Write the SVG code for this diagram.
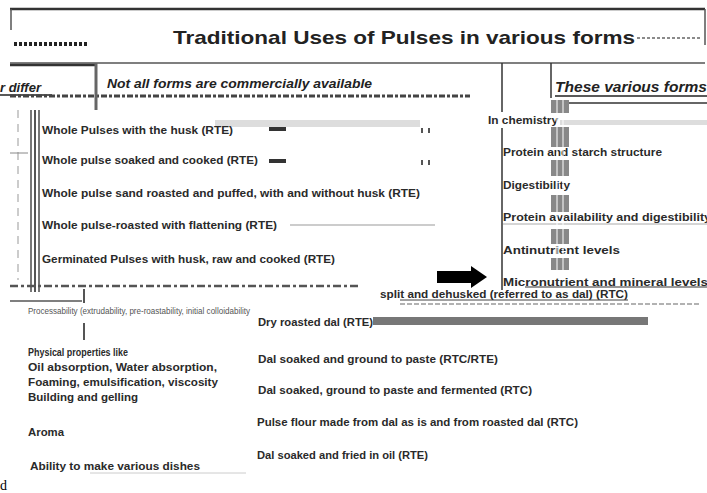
<svg xmlns="http://www.w3.org/2000/svg" width="707" height="493" viewBox="0 0 707 493">
<style>
.t{font-family:"Liberation Sans",Arial,sans-serif;font-size:11px;font-weight:bold;fill:#2a2a2a}
.g{font-family:"Liberation Sans",Arial,sans-serif;font-size:9px;fill:#555}
.hd{font-family:"Liberation Sans",Arial,sans-serif;font-weight:bold;font-style:italic;fill:#222}
.ln{stroke:#555;stroke-width:1.5;fill:none}
.dk{stroke:#333;stroke-width:2.5;fill:none}
.bar{fill:#888}
.stripe{stroke:#fff;stroke-width:1}
</style>
<rect width="707" height="493" fill="#fff"/>

<g id="frame">
  <line x1="10" y1="9" x2="705" y2="9" class="dk"/>
  <line x1="11" y1="9" x2="11" y2="30" class="ln"/>
  <line x1="705" y1="9" x2="705" y2="45" class="ln"/>
  <line x1="14" y1="44" x2="88" y2="44" stroke="#222" stroke-width="4" stroke-dasharray="3 2"/>
  <line x1="637" y1="38" x2="700" y2="38" stroke="#666" stroke-width="1.5" stroke-dasharray="3 2"/>
  <line x1="10" y1="63" x2="705" y2="63" class="ln"/>
  <line x1="10" y1="65" x2="96" y2="65" class="dk"/>
</g>

<g id="title">
  <text x="173" y="44" font-family="Liberation Sans, Arial, sans-serif" font-size="19" font-weight="bold" fill="#222" textLength="462" lengthAdjust="spacingAndGlyphs">Traditional Uses of Pulses in various forms</text>
</g>

<g id="header-row">
  <text x="0" y="92" class="hd" font-size="13">r differ</text>
  <line x1="0" y1="95" x2="52" y2="95" stroke="#222" stroke-width="1.5"/>
  <text x="107" y="88" class="hd" font-size="12" fill="#333" textLength="265" lengthAdjust="spacingAndGlyphs">Not all forms are commercially available</text>
  <line x1="10" y1="96" x2="470" y2="96" stroke="#444" stroke-width="3" stroke-dasharray="6 2 3 2"/>
  <text x="555" y="92" class="hd" font-size="15" textLength="152" lengthAdjust="spacingAndGlyphs">These various forms</text>
  <line x1="555" y1="96" x2="707" y2="96" stroke="#222" stroke-width="1.5"/>
  <line x1="560" y1="103" x2="707" y2="103" stroke="#333" stroke-width="1.5"/>
</g>

<g id="whole-pulse-forms">
  <rect x="215" y="120" width="205" height="7" fill="#ddd"/>
  <line x1="31" y1="110" x2="31" y2="292" stroke="#777" stroke-width="2"/>
  <line x1="35" y1="110" x2="35" y2="292" stroke="#555" stroke-width="2"/>
  <line x1="39" y1="110" x2="39" y2="292" stroke="#777" stroke-width="2"/>
  <line x1="18" y1="110" x2="18" y2="280" stroke="#ccc" stroke-width="2" stroke-dasharray="8 6"/>
  <line x1="10" y1="153" x2="28" y2="153" stroke="#888" stroke-width="1"/>
  <text x="42" y="134" class="t" textLength="191" lengthAdjust="spacingAndGlyphs">Whole Pulses with the husk (RTE)</text>
  <text x="42" y="164" class="t" textLength="216" lengthAdjust="spacingAndGlyphs">Whole pulse soaked and cooked (RTE)</text>
  <text x="42" y="197" class="t" textLength="378" lengthAdjust="spacingAndGlyphs">Whole pulse sand roasted and puffed, with and without husk (RTE)</text>
  <text x="42" y="229" class="t" textLength="235" lengthAdjust="spacingAndGlyphs">Whole pulse-roasted with flattening (RTE)</text>
  <text x="42" y="263" class="t" textLength="293" lengthAdjust="spacingAndGlyphs">Germinated Pulses with husk, raw and cooked (RTE)</text>
  <rect x="269" y="127" width="17" height="4" fill="#333"/>
  <rect x="269" y="159" width="17" height="4" fill="#333"/>
  <rect x="421" y="128" width="2" height="5" fill="#555"/>
  <rect x="428" y="128" width="2" height="5" fill="#555"/>
  <rect x="421" y="160" width="2" height="5" fill="#555"/>
  <rect x="428" y="160" width="2" height="5" fill="#555"/>
</g>

<g id="chemistry">
  <rect x="560" y="120" width="147" height="5" fill="#ddd"/>
  <text x="488" y="124" class="t" textLength="70" lengthAdjust="spacingAndGlyphs">In chemistry</text>
  <text x="503" y="156" class="t" textLength="159" lengthAdjust="spacingAndGlyphs">Protein and starch structure</text>
  <text x="503" y="189" class="t" textLength="67" lengthAdjust="spacingAndGlyphs">Digestibility</text>
  <text x="503" y="221" class="t" textLength="208" lengthAdjust="spacingAndGlyphs">Protein availability and digestibility</text>
  <line x1="503" y1="224" x2="707" y2="224" stroke="#aaa" stroke-width="1"/>
  <text x="503" y="254" class="t" textLength="117" lengthAdjust="spacingAndGlyphs">Antinutrient levels</text>
  <text x="503" y="286" class="t" textLength="205" lengthAdjust="spacingAndGlyphs">Micronutrient and mineral levels</text>
  <line x1="525" y1="287" x2="707" y2="287" stroke="#333" stroke-width="1.2"/>
  <g class="bars">
    <rect x="551" y="100" width="18" height="13" class="bar"/>
    <rect x="551" y="127" width="18" height="20" class="bar"/>
    <rect x="551" y="160" width="18" height="16" class="bar"/>
    <rect x="551" y="195" width="18" height="17" class="bar"/>
    <rect x="551" y="229" width="18" height="15" class="bar"/>
    <rect x="551" y="258" width="18" height="12" class="bar"/>
    <line x1="557" y1="98" x2="557" y2="272" class="stripe"/>
    <line x1="563" y1="98" x2="563" y2="272" class="stripe"/>
  </g>
</g>

<g id="dal">
  <text x="380" y="298" class="t" textLength="248" lengthAdjust="spacingAndGlyphs">split and dehusked (referred to as dal) (RTC)</text>
  <line x1="400" y1="300" x2="628" y2="300" stroke="#444" stroke-width="1"/>
  <line x1="400" y1="304" x2="700" y2="304" stroke="#999" stroke-width="1.5" stroke-dasharray="5 2"/>
</g>

<g id="dal-forms">
  <rect x="373" y="317" width="275" height="8" fill="#777"/>
  <text x="258" y="326" class="t" textLength="115" lengthAdjust="spacingAndGlyphs">Dry roasted dal (RTE)</text>
  <text x="258" y="363" class="t" textLength="240" lengthAdjust="spacingAndGlyphs">Dal soaked and ground to paste (RTC/RTE)</text>
  <text x="258" y="394" class="t" textLength="274" lengthAdjust="spacingAndGlyphs">Dal soaked, ground to paste and fermented (RTC)</text>
  <text x="257" y="426" class="t" textLength="321" lengthAdjust="spacingAndGlyphs">Pulse flour made from dal as is and from roasted dal (RTC)</text>
  <text x="257" y="459" class="t" textLength="171" lengthAdjust="spacingAndGlyphs">Dal soaked and fried in oil (RTE)</text>
</g>

<g id="properties">
  <line x1="10" y1="286" x2="360" y2="286" stroke="#555" stroke-width="2.5" stroke-dasharray="8 3 3 3"/>
  <text x="28" y="314" class="g" textLength="222" lengthAdjust="spacingAndGlyphs">Processability (extrudability, pre-roastability, initial colloidability</text>
  <text x="28" y="356" class="t" textLength="100" lengthAdjust="spacingAndGlyphs">Physical properties like</text>
  <text x="28" y="371" class="t" textLength="189" lengthAdjust="spacingAndGlyphs">Oil absorption, Water absorption,</text>
  <text x="28" y="386" class="t" textLength="190" lengthAdjust="spacingAndGlyphs">Foaming, emulsification, viscosity</text>
  <text x="28" y="401" class="t" textLength="110" lengthAdjust="spacingAndGlyphs">Building and gelling</text>
  <text x="28" y="436" class="t" textLength="36" lengthAdjust="spacingAndGlyphs">Aroma</text>
  <text x="30" y="470" class="t" textLength="170" lengthAdjust="spacingAndGlyphs">Ability to make various dishes</text>
  <line x1="90" y1="473" x2="246" y2="473" stroke="#ccc" stroke-width="1"/>
</g>

<g id="connectors">
  <line x1="96" y1="63" x2="96" y2="110" stroke="#666" stroke-width="3"/>
  <line x1="502" y1="63" x2="502" y2="112" stroke="#333" stroke-width="1.5"/>
  <line x1="502" y1="128" x2="502" y2="290" stroke="#333" stroke-width="1.5"/>
  <line x1="551" y1="63" x2="551" y2="98" stroke="#333" stroke-width="1.5"/>
  <line x1="290" y1="225" x2="435" y2="225" stroke="#999" stroke-width="1"/>
  <line x1="10" y1="301" x2="82" y2="301" stroke="#555" stroke-width="1.5"/>
  <line x1="84" y1="289" x2="84" y2="303" stroke="#555" stroke-width="2"/>
  <line x1="84" y1="323" x2="84" y2="340" stroke="#555" stroke-width="2"/>
  <polygon points="437,271 471,271 471,266 487,277 471,288 471,283 437,283" fill="#000"/>
</g>

<text x="0" y="490" font-family="Liberation Serif, serif" font-size="14" fill="#000">d</text>
</svg>
